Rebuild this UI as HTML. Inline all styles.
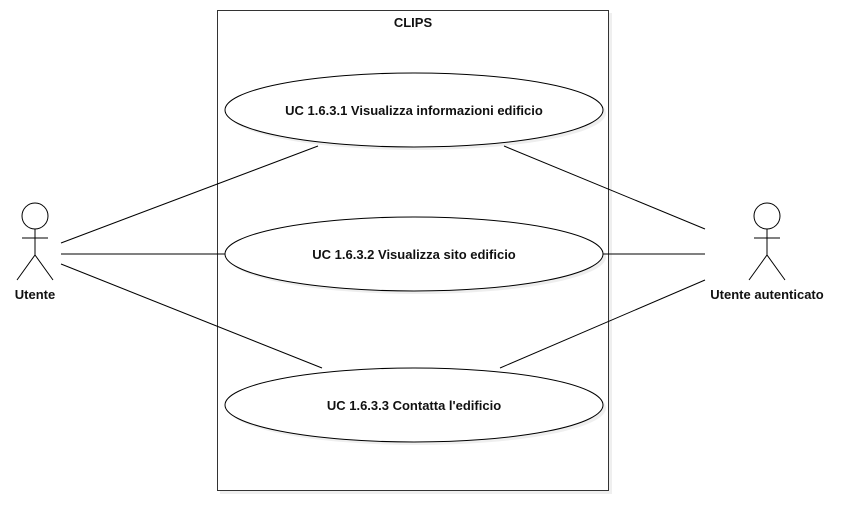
<!DOCTYPE html>
<html><head><meta charset="utf-8"><style>html,body{margin:0;padding:0;background:#fff}svg{display:block}</style></head><body>
<svg width="868" height="530" xmlns="http://www.w3.org/2000/svg" font-family="Liberation Sans, sans-serif">
<rect x="220" y="13" width="392" height="481" fill="#e8e8e8" opacity="0.7"/>
<rect x="217.5" y="10.5" width="391" height="480" fill="#fff" stroke="#333" stroke-width="1"/>
<text x="413" y="27" font-size="13" font-weight="bold" text-anchor="middle" fill="#111">CLIPS</text>
<g fill="#e8e8e8" opacity="0.7">
<ellipse cx="417" cy="113" rx="189" ry="37"/>
<ellipse cx="417" cy="257" rx="189" ry="37"/>
<ellipse cx="417" cy="408" rx="189" ry="37"/>
</g>
<g fill="#fff" stroke="#000" stroke-width="1">
<ellipse cx="414" cy="110" rx="189" ry="37"/>
<ellipse cx="414" cy="254" rx="189" ry="37"/>
<ellipse cx="414" cy="405" rx="189" ry="37"/>
</g>
<g font-size="13" font-weight="bold" text-anchor="middle" fill="#111">
<text x="414" y="115">UC 1.6.3.1 Visualizza informazioni edificio</text>
<text x="414" y="259">UC 1.6.3.2 Visualizza sito edificio</text>
<text x="414" y="410">UC 1.6.3.3 Contatta l'edificio</text>
</g>
<g stroke="#000" stroke-width="1" fill="none">
<line x1="61" y1="243" x2="318" y2="146"/>
<line x1="61" y1="254" x2="225" y2="254"/>
<line x1="61" y1="264" x2="322" y2="368"/>
<line x1="504" y1="146" x2="705" y2="229"/>
<line x1="603" y1="254" x2="705" y2="254"/>
<line x1="500" y1="368" x2="705" y2="280"/>
</g>
<g stroke="#000" stroke-width="1" fill="#fff">
<circle cx="35" cy="216" r="13"/>
<line x1="35" y1="229" x2="35" y2="255"/>
<line x1="22" y1="238" x2="48" y2="238"/>
<polyline points="17,280 35,255 53,280" fill="none"/>
<circle cx="767" cy="216" r="13"/>
<line x1="767" y1="229" x2="767" y2="255"/>
<line x1="754" y1="238" x2="780" y2="238"/>
<polyline points="749,280 767,255 785,280" fill="none"/>
</g>
<g font-size="13" font-weight="bold" text-anchor="middle" fill="#111">
<text x="35" y="299">Utente</text>
<text x="767" y="299">Utente autenticato</text>
</g>
</svg>
</body></html>
